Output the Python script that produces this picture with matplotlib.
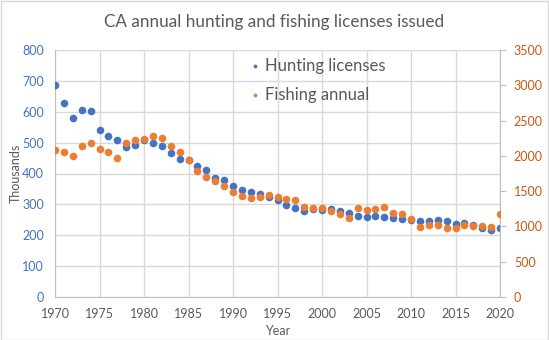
import matplotlib
matplotlib.use("Agg")
import matplotlib.pyplot as plt
from matplotlib.patches import Rectangle

years = list(range(1970, 2021))
hunting = [688, 627, 581, 607, 601, 542, 523, 510, 486, 492,
           507, 499, 490, 466, 447, 445, 425, 410, 386, 380,
           358, 348, 341, 334, 325, 314, 298, 288, 279, 286,
           282, 285, 278, 271, 262, 259, 262, 259, 256, 253,
           249, 246, 246, 249, 246, 236, 240, 233, 223, 217,
           223]
fishing = [2088, 2060, 2001, 2144, 2187, 2101, 2060, 1974, 2187, 2230,
           2244, 2287, 2258, 2144, 2060, 1945, 1788, 1706, 1646, 1575,
           1489, 1432, 1404, 1423, 1452, 1423, 1395, 1380, 1276, 1262,
           1262, 1219, 1176, 1119, 1262, 1234, 1248, 1276, 1191, 1176,
           1105, 992, 1020, 1020, 977, 977, 1020, 1005, 1005, 992,
           1176]

title = "CA annual hunting and fishing licenses issued"
label_h = "Hunting licenses"
label_f = "Fishing annual"

BLUE = "#4472C4"
ORANGE = "#ED7D31"
GRAY = "#595959"
GRID = "#D9D9D9"

plt.rcParams['font.family'] = ['Lato', 'DejaVu Sans']

fig = plt.figure(figsize=(5.49, 3.40), dpi=100)
W, H = 549, 340
left, right, top, bottom = 55, 500, 50, 297
ax = fig.add_axes([left / W, 1 - bottom / H, (right - left) / W, (bottom - top) / H])
ax2 = ax.twinx()

h1 = ax.scatter(years, hunting, s=30, color=BLUE, zorder=3, label=label_h, linewidths=0)
h2 = ax2.scatter(years, fishing, s=30, color=ORANGE, zorder=3, label=label_f, linewidths=0)

ax.set_xlim(1970, 2020)
ax.set_ylim(0, 800)
ax2.set_ylim(0, 3500)
ax.set_xticks(range(1970, 2021, 5))
ax.set_yticks(range(0, 801, 100))
ax2.set_yticks(range(0, 3501, 500))

ax.grid(True, color=GRID, linewidth=1)
ax.set_axisbelow(True)
for sp in ['top', 'right']:
    ax.spines[sp].set_visible(False)
for sp in ['top', 'left', 'bottom']:
    ax2.spines[sp].set_visible(False)
ax.spines['left'].set_color("#BFBFBF")
ax.spines['bottom'].set_color("#BFBFBF")
ax2.spines['right'].set_color("#BFBFBF")

ax.tick_params(axis='y', length=0, labelcolor=BLUE, labelsize=9, pad=8)
ax.tick_params(axis='x', length=0, labelcolor=GRAY, labelsize=9, pad=8)
ax2.tick_params(axis='y', length=4, color="#BFBFBF", labelcolor="#C55A11", labelsize=9, pad=6)

ax.set_xlabel("Year", color=GRAY, fontsize=9)
ax.set_ylabel("Thousands", color=GRAY, fontsize=9)
ax.xaxis.set_label_coords(0.5, -(331 - bottom) / (bottom - top))
ax.yaxis.set_label_coords(-(left - 16) / (right - left), 0.5)
ax.xaxis.label.set_va('center')
ax.yaxis.label.set_va('center')

fig.text(0.5, 1 - 22 / H, title, ha='center', va='center', fontsize=12.3, color=GRAY)

leg = ax2.legend(handles=[h1, h2], loc='upper left', bbox_to_anchor=(0.397, 1.03),
                 frameon=False, fontsize=12, markerscale=0.5, handletextpad=0.1,
                 labelspacing=0.78, handlelength=1.0, labelcolor=GRAY)

fig.patches.append(Rectangle((0.5 / W, 0.5 / H), 1 - 1.5 / W, 1 - 1.5 / H,
                             transform=fig.transFigure, fill=False,
                             edgecolor="#D9D9D9", linewidth=1))

fig.savefig("out.png", dpi=100)
